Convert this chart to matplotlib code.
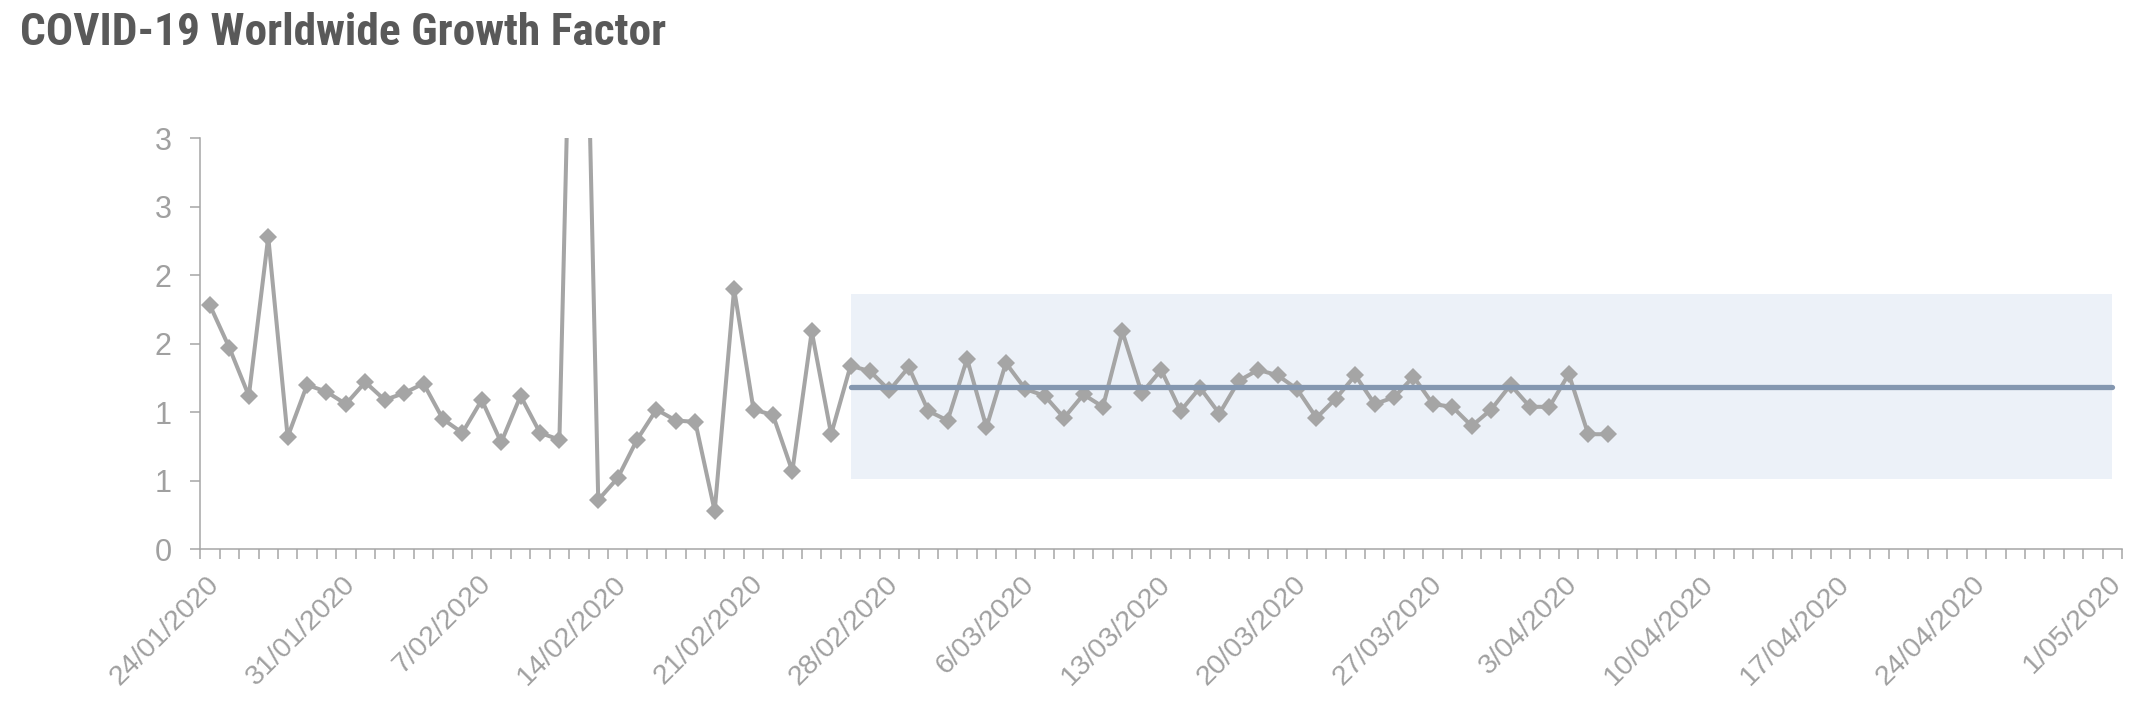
import matplotlib
matplotlib.use('Agg')
import matplotlib.pyplot as plt
import matplotlib.dates as mdates
import matplotlib.transforms as mtransforms
from matplotlib.ticker import FixedLocator
from matplotlib import font_manager
import numpy as np
import pandas as pd

# ---------------- data ----------------
start_date = '2020-01-24'
growth = [1.78, 1.47, 1.12, 2.28, 0.82, 1.20, 1.15, 1.06, 1.22, 1.09,
          1.14, 1.21, 0.95, 0.85, 1.09, 0.78, 1.12, 0.85, 0.80, 6.70,
          0.36, 0.52, 0.80, 1.02, 0.94, 0.93, 0.28, 1.90, 1.02, 0.98,
          0.57, 1.59, 0.84, 1.34, 1.30, 1.16, 1.33, 1.01, 0.94, 1.39,
          0.89, 1.36, 1.17, 1.12, 0.96, 1.13, 1.04, 1.59, 1.14, 1.31,
          1.01, 1.18, 0.99, 1.23, 1.31, 1.27, 1.17, 0.96, 1.10, 1.27,
          1.06, 1.11, 1.26, 1.06, 1.04, 0.90, 1.02, 1.20, 1.04, 1.04,
          1.28, 0.84, 0.84]
band_start = '2020-02-26'
band_end = '2020-05-01'
band_low = 0.511
band_high = 1.864
mean_value = 1.187
y_ticks = [0, 0.5, 1, 1.5, 2, 2.5, 3]
y_labels = ['0', '1', '1', '2', '2', '3', '3']
x_label_dates = ['2020-01-24', '2020-01-31', '2020-02-07', '2020-02-14',
                 '2020-02-21', '2020-02-28', '2020-03-06', '2020-03-13',
                 '2020-03-20', '2020-03-27', '2020-04-03', '2020-04-10',
                 '2020-04-17', '2020-04-24', '2020-05-01']
x_labels = ['24/01/2020', '31/01/2020', '7/02/2020', '14/02/2020',
            '21/02/2020', '28/02/2020', '6/03/2020', '13/03/2020',
            '20/03/2020', '27/03/2020', '3/04/2020', '10/04/2020',
            '17/04/2020', '24/04/2020', '1/05/2020']
title = 'COVID-19 Worldwide Growth Factor'

# ---------------- fonts ----------------
entries = font_manager.fontManager.ttflist
fams = {f.name for f in entries}
bold_fams = {f.name for f in entries
             if (isinstance(f.weight, int) and f.weight >= 700) or f.weight == 'bold'}
def pick(prefs, need_bold=False):
    for p in prefs:
        if p in fams and (not need_bold or p in bold_fams):
            return p
    return 'DejaVu Sans'
regular = pick(['Liberation Sans', 'Arimo', 'DejaVu Sans'])
title_font = pick(['Liberation Sans Narrow', 'Arial Narrow', 'Roboto Condensed',
                   'PT Sans Narrow', 'Fira Sans Condensed',
                   'IBM Plex Sans Condensed', 'Open Sans Condensed', regular],
                  need_bold=True)
plt.rcParams['font.family'] = [regular, 'DejaVu Sans']

W, H = 2140, 711
fig = plt.figure(figsize=(W / 100, H / 100), dpi=100)
ax = fig.add_axes([200.3 / W, 1 - 549.3 / H, (2122 - 200.3) / W, (549.3 - 138.3) / H])

dates = pd.date_range(start_date, periods=len(growth), freq='D')
xs = mdates.date2num(dates)
b0 = mdates.date2num(pd.Timestamp(band_start))
b1 = mdates.date2num(pd.Timestamp(band_end))

ax.fill_between([b0, b1], [band_low, band_low], [band_high, band_high],
                color='#ECF1F8', lw=0, zorder=1)
ax.plot(xs, growth, color='#A5A5A5', lw=2.9, marker='D', ms=9.5, mew=0,
        zorder=3)
ax.plot([b0, b1], [mean_value, mean_value], color='#8497B0', lw=3.8,
        solid_capstyle='round', zorder=4)

x0 = mdates.date2num(pd.Timestamp(start_date)) - 0.5
x1 = mdates.date2num(pd.Timestamp(band_end)) + 0.5
ax.set_xlim(x0, x1)
ax.set_ylim(0, 3)

axis_col = '#A6A6A6'
for s in ['top', 'right']:
    ax.spines[s].set_visible(False)
for s in ['left', 'bottom']:
    ax.spines[s].set_color(axis_col)
    ax.spines[s].set_linewidth(1.1)

ax.set_yticks(y_ticks)
ax.set_yticklabels(y_labels)
ax.tick_params(axis='y', length=7.2, width=1.1, color=axis_col,
               labelcolor='#A0A0A0', labelsize=22, pad=13.5)

ax.xaxis.set_minor_locator(FixedLocator(np.arange(x0, x1 + 0.01, 1.0)))
ax.xaxis.set_major_locator(FixedLocator(mdates.date2num(pd.to_datetime(x_label_dates))))
ax.set_xticklabels(x_labels)
ax.tick_params(axis='x', which='minor', length=7.2, width=1.1, color=axis_col)
ax.tick_params(axis='x', which='major', length=0, labelcolor='#A0A0A0',
               labelsize=20.5, pad=15.5)
offset = mtransforms.ScaledTranslation(-4 / 100, 0, fig.dpi_scale_trans)
for lab in ax.get_xticklabels():
    lab.set_rotation(45)
    lab.set_ha('right')
    lab.set_va('top')
    lab.set_rotation_mode('anchor')
    lab.set_transform(lab.get_transform() + offset)

t = fig.text(20 / W, 1 - 12 / H, title, fontsize=33, fontweight='bold',
             family=[title_font, 'DejaVu Sans'], color='#595959',
             ha='left', va='top')
# fit the title to the width it takes in the reference (about 646 px)
renderer = fig.canvas.get_renderer()
for _ in range(3):
    w = t.get_window_extent(renderer).width
    if w > 0:
        t.set_fontsize(t.get_fontsize() * 646.0 / w)

fig.savefig('out.png', dpi=100)
